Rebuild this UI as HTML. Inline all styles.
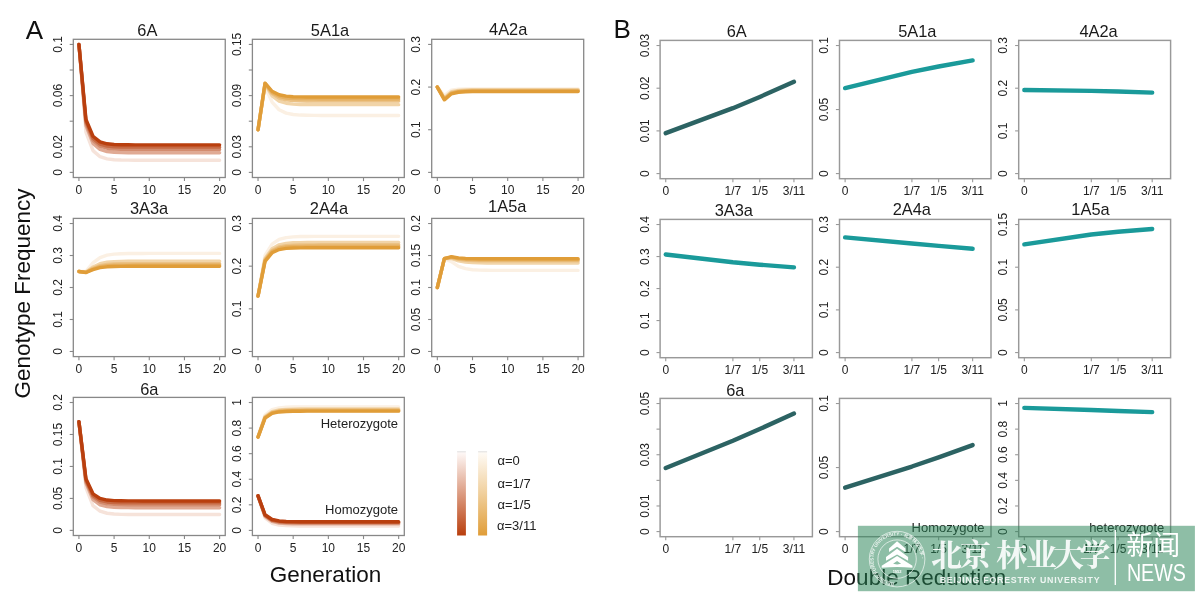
<!DOCTYPE html>
<html><head><meta charset="utf-8"><title>Genotype Frequency</title><style>
html,body{margin:0;padding:0;background:#fff;}
svg{display:block;}
text{font-family:"Liberation Sans",Arial,sans-serif;fill:#1a1a1a;}
.tk{font-size:12px;fill:#222;}
.ti{font-size:16.4px;fill:#1a1a1a;}
.hl{font-size:13px;fill:#222;}
.lg{font-size:13px;fill:#222;}
.big{font-size:26px;fill:#111;}
.ax{font-size:22.5px;fill:#111;}
.la{stroke-width:3.4;stroke-linecap:round;stroke-linejoin:round;}
.lb{stroke-width:4.4;stroke-linecap:round;stroke-linejoin:round;}
.cal text{font-family:"Liberation Serif","Noto Serif CJK SC",serif;font-weight:bold;font-size:31px;fill:#fff;text-anchor:middle;}
.ringt{font-family:"Liberation Sans","Noto Sans CJK SC",sans-serif;font-size:4.6px;fill:#fff;fill-opacity:0.85;font-weight:bold;}
.yr{font-size:4px;fill:#fff;font-weight:bold;}
.bfu{font-size:8.8px;font-weight:bold;fill:#fff;fill-opacity:0.85;letter-spacing:0.75px;}
.xw{font-family:"Liberation Sans","Noto Sans CJK SC",sans-serif;font-size:27px;fill:#fff;}
.news{font-size:23.5px;fill:#fff;}
</style></head>
<body><svg width="1200" height="598" viewBox="0 0 1200 598">
<rect width="1200" height="598" fill="#fff"/>
<rect x="73.30" y="39.30" width="151.95" height="138.20" fill="none" stroke="#888888" stroke-width="1.3"/>
<line x1="69.70" y1="172.38" x2="73.30" y2="172.38" stroke="#888888" stroke-width="1.1"/>
<line x1="69.70" y1="146.79" x2="73.30" y2="146.79" stroke="#888888" stroke-width="1.1"/>
<line x1="69.70" y1="121.20" x2="73.30" y2="121.20" stroke="#888888" stroke-width="1.1"/>
<line x1="69.70" y1="95.60" x2="73.30" y2="95.60" stroke="#888888" stroke-width="1.1"/>
<line x1="69.70" y1="70.01" x2="73.30" y2="70.01" stroke="#888888" stroke-width="1.1"/>
<line x1="69.70" y1="44.42" x2="73.30" y2="44.42" stroke="#888888" stroke-width="1.1"/>
<text class="tk" transform="translate(61.90,172.38) rotate(-90)" text-anchor="middle">0</text>
<text class="tk" transform="translate(61.90,146.79) rotate(-90)" text-anchor="middle">0.02</text>
<text class="tk" transform="translate(61.90,95.60) rotate(-90)" text-anchor="middle">0.06</text>
<text class="tk" transform="translate(61.90,44.42) rotate(-90)" text-anchor="middle">0.1</text>
<line x1="78.93" y1="177.50" x2="78.93" y2="181.10" stroke="#888888" stroke-width="1.1"/>
<line x1="114.10" y1="177.50" x2="114.10" y2="181.10" stroke="#888888" stroke-width="1.1"/>
<line x1="149.27" y1="177.50" x2="149.27" y2="181.10" stroke="#888888" stroke-width="1.1"/>
<line x1="184.45" y1="177.50" x2="184.45" y2="181.10" stroke="#888888" stroke-width="1.1"/>
<line x1="219.62" y1="177.50" x2="219.62" y2="181.10" stroke="#888888" stroke-width="1.1"/>
<text class="tk" x="78.93" y="193.60" text-anchor="middle">0</text>
<text class="tk" x="114.10" y="193.60" text-anchor="middle">5</text>
<text class="tk" x="149.27" y="193.60" text-anchor="middle">10</text>
<text class="tk" x="184.45" y="193.60" text-anchor="middle">15</text>
<text class="tk" x="219.62" y="193.60" text-anchor="middle">20</text>
<path d="M78.93,44.42 L85.96,132.07 L93.00,150.64 L100.03,156.72 L107.07,158.89 L114.10,159.72 L121.14,160.04 L128.17,160.17 L135.21,160.22 L142.24,160.24 L149.27,160.25 L156.31,160.26 L163.34,160.26 L170.38,160.26 L177.41,160.26 L184.45,160.26 L191.48,160.26 L198.52,160.26 L205.55,160.26 L212.59,160.26 L219.62,160.26" fill="none" stroke="#F6E3DA" class="la"/>
<path d="M78.93,44.42 L85.96,125.70 L93.00,143.49 L100.03,149.42 L107.07,151.52 L114.10,152.30 L121.14,152.59 L128.17,152.70 L135.21,152.74 L142.24,152.76 L149.27,152.77 L156.31,152.77 L163.34,152.77 L170.38,152.77 L177.41,152.77 L184.45,152.77 L191.48,152.77 L198.52,152.77 L205.55,152.77 L212.59,152.77 L219.62,152.77" fill="none" stroke="#E0AA94" class="la"/>
<path d="M78.93,44.42 L85.96,123.02 L93.00,140.39 L100.03,146.19 L107.07,148.23 L114.10,148.97 L121.14,149.25 L128.17,149.35 L135.21,149.39 L142.24,149.40 L149.27,149.41 L156.31,149.41 L163.34,149.41 L170.38,149.41 L177.41,149.41 L184.45,149.41 L191.48,149.41 L198.52,149.41 L205.55,149.41 L212.59,149.41 L219.62,149.41" fill="none" stroke="#D38C6F" class="la"/>
<path d="M78.93,44.42 L85.96,121.28 L93.00,138.36 L100.03,144.06 L107.07,146.04 L114.10,146.76 L121.14,147.02 L128.17,147.12 L135.21,147.15 L142.24,147.17 L149.27,147.17 L156.31,147.17 L163.34,147.17 L170.38,147.17 L177.41,147.17 L184.45,147.17 L191.48,147.17 L198.52,147.17 L205.55,147.17 L212.59,147.17 L219.62,147.17" fill="none" stroke="#C76943" class="la"/>
<path d="M78.93,44.42 L85.96,119.51 L93.00,136.27 L100.03,141.85 L107.07,143.79 L114.10,144.48 L121.14,144.72 L128.17,144.81 L135.21,144.85 L142.24,144.86 L149.27,144.86 L156.31,144.86 L163.34,144.86 L170.38,144.87 L177.41,144.87 L184.45,144.87 L191.48,144.87 L198.52,144.87 L205.55,144.87 L212.59,144.87 L219.62,144.87" fill="none" stroke="#B93F0E" class="la"/>
<text class="ti" x="147.40" y="35.60" text-anchor="middle">6A</text>
<rect x="252.40" y="39.30" width="151.90" height="138.20" fill="none" stroke="#888888" stroke-width="1.3"/>
<line x1="248.80" y1="172.38" x2="252.40" y2="172.38" stroke="#888888" stroke-width="1.1"/>
<line x1="248.80" y1="146.79" x2="252.40" y2="146.79" stroke="#888888" stroke-width="1.1"/>
<line x1="248.80" y1="121.20" x2="252.40" y2="121.20" stroke="#888888" stroke-width="1.1"/>
<line x1="248.80" y1="95.60" x2="252.40" y2="95.60" stroke="#888888" stroke-width="1.1"/>
<line x1="248.80" y1="70.01" x2="252.40" y2="70.01" stroke="#888888" stroke-width="1.1"/>
<line x1="248.80" y1="44.42" x2="252.40" y2="44.42" stroke="#888888" stroke-width="1.1"/>
<text class="tk" transform="translate(241.00,172.38) rotate(-90)" text-anchor="middle">0</text>
<text class="tk" transform="translate(241.00,146.79) rotate(-90)" text-anchor="middle">0.03</text>
<text class="tk" transform="translate(241.00,95.60) rotate(-90)" text-anchor="middle">0.09</text>
<text class="tk" transform="translate(241.00,44.42) rotate(-90)" text-anchor="middle">0.15</text>
<line x1="258.03" y1="177.50" x2="258.03" y2="181.10" stroke="#888888" stroke-width="1.1"/>
<line x1="293.19" y1="177.50" x2="293.19" y2="181.10" stroke="#888888" stroke-width="1.1"/>
<line x1="328.35" y1="177.50" x2="328.35" y2="181.10" stroke="#888888" stroke-width="1.1"/>
<line x1="363.51" y1="177.50" x2="363.51" y2="181.10" stroke="#888888" stroke-width="1.1"/>
<line x1="398.67" y1="177.50" x2="398.67" y2="181.10" stroke="#888888" stroke-width="1.1"/>
<text class="tk" x="258.03" y="193.60" text-anchor="middle">0</text>
<text class="tk" x="293.19" y="193.60" text-anchor="middle">5</text>
<text class="tk" x="328.35" y="193.60" text-anchor="middle">10</text>
<text class="tk" x="363.51" y="193.60" text-anchor="middle">15</text>
<text class="tk" x="398.67" y="193.60" text-anchor="middle">20</text>
<path d="M258.03,129.73 L265.06,86.52 L272.09,102.05 L279.12,109.73 L286.16,113.11 L293.19,114.50 L300.22,115.07 L307.25,115.30 L314.29,115.39 L321.32,115.43 L328.35,115.44 L335.38,115.45 L342.41,115.45 L349.45,115.45 L356.48,115.45 L363.51,115.45 L370.54,115.45 L377.58,115.45 L384.61,115.45 L391.64,115.45 L398.67,115.45" fill="none" stroke="#FBF0E3" class="la"/>
<path d="M258.03,129.73 L265.06,84.44 L272.09,95.79 L279.12,101.04 L286.16,103.23 L293.19,104.10 L300.22,104.43 L307.25,104.56 L314.29,104.61 L321.32,104.63 L328.35,104.63 L335.38,104.64 L342.41,104.64 L349.45,104.64 L356.48,104.64 L363.51,104.64 L370.54,104.64 L377.58,104.64 L384.61,104.64 L391.64,104.64 L398.67,104.64" fill="none" stroke="#F1D4A8" class="la"/>
<path d="M258.03,129.73 L265.06,83.78 L272.09,93.65 L279.12,98.10 L286.16,99.91 L293.19,100.61 L300.22,100.87 L307.25,100.97 L314.29,101.01 L321.32,101.02 L328.35,101.03 L335.38,101.03 L342.41,101.03 L349.45,101.03 L356.48,101.03 L363.51,101.03 L370.54,101.03 L377.58,101.03 L384.61,101.03 L391.64,101.03 L398.67,101.03" fill="none" stroke="#EBC286" class="la"/>
<path d="M258.03,129.73 L265.06,83.42 L272.09,92.40 L279.12,96.37 L286.16,97.97 L293.19,98.57 L300.22,98.80 L307.25,98.89 L314.29,98.92 L321.32,98.93 L328.35,98.93 L335.38,98.93 L342.41,98.93 L349.45,98.93 L356.48,98.93 L363.51,98.93 L370.54,98.93 L377.58,98.93 L384.61,98.93 L391.64,98.93 L398.67,98.93" fill="none" stroke="#E6B163" class="la"/>
<path d="M258.03,129.73 L265.06,83.09 L272.09,91.24 L279.12,94.76 L286.16,96.16 L293.19,96.68 L300.22,96.88 L307.25,96.95 L314.29,96.97 L321.32,96.98 L328.35,96.99 L335.38,96.99 L342.41,96.99 L349.45,96.99 L356.48,96.99 L363.51,96.99 L370.54,96.99 L377.58,96.99 L384.61,96.99 L391.64,96.99 L398.67,96.99" fill="none" stroke="#E09D38" class="la"/>
<text class="ti" x="330.00" y="35.60" text-anchor="middle">5A1a</text>
<rect x="431.70" y="39.30" width="152.00" height="138.20" fill="none" stroke="#888888" stroke-width="1.3"/>
<line x1="428.10" y1="172.38" x2="431.70" y2="172.38" stroke="#888888" stroke-width="1.1"/>
<line x1="428.10" y1="129.73" x2="431.70" y2="129.73" stroke="#888888" stroke-width="1.1"/>
<line x1="428.10" y1="87.07" x2="431.70" y2="87.07" stroke="#888888" stroke-width="1.1"/>
<line x1="428.10" y1="44.42" x2="431.70" y2="44.42" stroke="#888888" stroke-width="1.1"/>
<text class="tk" transform="translate(420.30,172.38) rotate(-90)" text-anchor="middle">0</text>
<text class="tk" transform="translate(420.30,129.73) rotate(-90)" text-anchor="middle">0.1</text>
<text class="tk" transform="translate(420.30,87.07) rotate(-90)" text-anchor="middle">0.2</text>
<text class="tk" transform="translate(420.30,44.42) rotate(-90)" text-anchor="middle">0.3</text>
<line x1="437.33" y1="177.50" x2="437.33" y2="181.10" stroke="#888888" stroke-width="1.1"/>
<line x1="472.51" y1="177.50" x2="472.51" y2="181.10" stroke="#888888" stroke-width="1.1"/>
<line x1="507.70" y1="177.50" x2="507.70" y2="181.10" stroke="#888888" stroke-width="1.1"/>
<line x1="542.89" y1="177.50" x2="542.89" y2="181.10" stroke="#888888" stroke-width="1.1"/>
<line x1="578.07" y1="177.50" x2="578.07" y2="181.10" stroke="#888888" stroke-width="1.1"/>
<text class="tk" x="437.33" y="193.60" text-anchor="middle">0</text>
<text class="tk" x="472.51" y="193.60" text-anchor="middle">5</text>
<text class="tk" x="507.70" y="193.60" text-anchor="middle">10</text>
<text class="tk" x="542.89" y="193.60" text-anchor="middle">15</text>
<text class="tk" x="578.07" y="193.60" text-anchor="middle">20</text>
<path d="M437.33,87.07 L444.37,95.63 L451.40,90.09 L458.44,89.13 L465.48,88.92 L472.51,88.87 L479.55,88.85 L486.59,88.85 L493.63,88.85 L500.66,88.85 L507.70,88.85 L514.74,88.85 L521.77,88.85 L528.81,88.85 L535.85,88.85 L542.89,88.85 L549.92,88.85 L556.96,88.85 L564.00,88.85 L571.03,88.85 L578.07,88.85" fill="none" stroke="#FBF0E3" class="la"/>
<path d="M437.33,87.07 L444.37,97.77 L451.40,91.79 L458.44,90.39 L465.48,89.96 L472.51,89.82 L479.55,89.76 L486.59,89.74 L493.63,89.73 L500.66,89.73 L507.70,89.73 L514.74,89.73 L521.77,89.73 L528.81,89.73 L535.85,89.73 L542.89,89.73 L549.92,89.73 L556.96,89.73 L564.00,89.73 L571.03,89.73 L578.07,89.73" fill="none" stroke="#F1D4A8" class="la"/>
<path d="M437.33,87.07 L444.37,98.67 L451.40,92.62 L458.44,91.12 L465.48,90.65 L472.51,90.48 L479.55,90.42 L486.59,90.40 L493.63,90.39 L500.66,90.39 L507.70,90.39 L514.74,90.39 L521.77,90.39 L528.81,90.39 L535.85,90.39 L542.89,90.39 L549.92,90.39 L556.96,90.39 L564.00,90.39 L571.03,90.39 L578.07,90.39" fill="none" stroke="#EBC286" class="la"/>
<path d="M437.33,87.07 L444.37,99.25 L451.40,93.19 L458.44,91.65 L465.48,91.15 L472.51,90.98 L479.55,90.92 L486.59,90.90 L493.63,90.89 L500.66,90.89 L507.70,90.89 L514.74,90.89 L521.77,90.89 L528.81,90.89 L535.85,90.89 L542.89,90.89 L549.92,90.89 L556.96,90.89 L564.00,90.89 L571.03,90.89 L578.07,90.89" fill="none" stroke="#E6B163" class="la"/>
<path d="M437.33,87.07 L444.37,99.84 L451.40,93.79 L458.44,92.22 L465.48,91.71 L472.51,91.54 L479.55,91.48 L486.59,91.45 L493.63,91.45 L500.66,91.44 L507.70,91.44 L514.74,91.44 L521.77,91.44 L528.81,91.44 L535.85,91.44 L542.89,91.44 L549.92,91.44 L556.96,91.44 L564.00,91.44 L571.03,91.44 L578.07,91.44" fill="none" stroke="#E09D38" class="la"/>
<text class="ti" x="508.18" y="35.30" text-anchor="middle">4A2a</text>
<rect x="73.30" y="218.40" width="151.95" height="138.20" fill="none" stroke="#888888" stroke-width="1.3"/>
<line x1="69.70" y1="351.48" x2="73.30" y2="351.48" stroke="#888888" stroke-width="1.1"/>
<line x1="69.70" y1="319.49" x2="73.30" y2="319.49" stroke="#888888" stroke-width="1.1"/>
<line x1="69.70" y1="287.50" x2="73.30" y2="287.50" stroke="#888888" stroke-width="1.1"/>
<line x1="69.70" y1="255.51" x2="73.30" y2="255.51" stroke="#888888" stroke-width="1.1"/>
<line x1="69.70" y1="223.52" x2="73.30" y2="223.52" stroke="#888888" stroke-width="1.1"/>
<text class="tk" transform="translate(61.90,351.48) rotate(-90)" text-anchor="middle">0</text>
<text class="tk" transform="translate(61.90,319.49) rotate(-90)" text-anchor="middle">0.1</text>
<text class="tk" transform="translate(61.90,287.50) rotate(-90)" text-anchor="middle">0.2</text>
<text class="tk" transform="translate(61.90,255.51) rotate(-90)" text-anchor="middle">0.3</text>
<text class="tk" transform="translate(61.90,223.52) rotate(-90)" text-anchor="middle">0.4</text>
<line x1="78.93" y1="356.60" x2="78.93" y2="360.20" stroke="#888888" stroke-width="1.1"/>
<line x1="114.10" y1="356.60" x2="114.10" y2="360.20" stroke="#888888" stroke-width="1.1"/>
<line x1="149.27" y1="356.60" x2="149.27" y2="360.20" stroke="#888888" stroke-width="1.1"/>
<line x1="184.45" y1="356.60" x2="184.45" y2="360.20" stroke="#888888" stroke-width="1.1"/>
<line x1="219.62" y1="356.60" x2="219.62" y2="360.20" stroke="#888888" stroke-width="1.1"/>
<text class="tk" x="78.93" y="372.70" text-anchor="middle">0</text>
<text class="tk" x="114.10" y="372.70" text-anchor="middle">5</text>
<text class="tk" x="149.27" y="372.70" text-anchor="middle">10</text>
<text class="tk" x="184.45" y="372.70" text-anchor="middle">15</text>
<text class="tk" x="219.62" y="372.70" text-anchor="middle">20</text>
<path d="M78.93,271.50 L85.96,271.25 L93.00,262.93 L100.03,257.62 L107.07,255.16 L114.10,254.12 L121.14,253.70 L128.17,253.53 L135.21,253.46 L142.24,253.44 L149.27,253.42 L156.31,253.42 L163.34,253.42 L170.38,253.42 L177.41,253.42 L184.45,253.42 L191.48,253.42 L198.52,253.42 L205.55,253.42 L212.59,253.42 L219.62,253.42" fill="none" stroke="#FBF0E3" class="la"/>
<path d="M78.93,271.50 L85.96,272.11 L93.00,267.00 L100.03,263.67 L107.07,262.19 L114.10,261.60 L121.14,261.37 L128.17,261.28 L135.21,261.24 L142.24,261.23 L149.27,261.23 L156.31,261.22 L163.34,261.22 L170.38,261.22 L177.41,261.22 L184.45,261.22 L191.48,261.22 L198.52,261.22 L205.55,261.22 L212.59,261.22 L219.62,261.22" fill="none" stroke="#F1D4A8" class="la"/>
<path d="M78.93,271.50 L85.96,272.33 L93.00,268.29 L100.03,265.60 L107.07,264.42 L114.10,263.96 L121.14,263.78 L128.17,263.71 L135.21,263.69 L142.24,263.68 L149.27,263.68 L156.31,263.68 L163.34,263.67 L170.38,263.67 L177.41,263.67 L184.45,263.67 L191.48,263.67 L198.52,263.67 L205.55,263.67 L212.59,263.67 L219.62,263.67" fill="none" stroke="#EBC286" class="la"/>
<path d="M78.93,271.50 L85.96,272.43 L93.00,269.01 L100.03,266.69 L107.07,265.68 L114.10,265.29 L121.14,265.14 L128.17,265.08 L135.21,265.06 L142.24,265.06 L149.27,265.05 L156.31,265.05 L163.34,265.05 L170.38,265.05 L177.41,265.05 L184.45,265.05 L191.48,265.05 L198.52,265.05 L205.55,265.05 L212.59,265.05 L219.62,265.05" fill="none" stroke="#E6B163" class="la"/>
<path d="M78.93,271.50 L85.96,272.50 L93.00,269.67 L100.03,267.67 L107.07,266.82 L114.10,266.49 L121.14,266.36 L128.17,266.32 L135.21,266.30 L142.24,266.30 L149.27,266.30 L156.31,266.29 L163.34,266.29 L170.38,266.29 L177.41,266.29 L184.45,266.29 L191.48,266.29 L198.52,266.29 L205.55,266.29 L212.59,266.29 L219.62,266.29" fill="none" stroke="#E09D38" class="la"/>
<text class="ti" x="149.05" y="214.40" text-anchor="middle">3A3a</text>
<rect x="252.40" y="218.40" width="151.90" height="138.20" fill="none" stroke="#888888" stroke-width="1.3"/>
<line x1="248.80" y1="351.48" x2="252.40" y2="351.48" stroke="#888888" stroke-width="1.1"/>
<line x1="248.80" y1="308.83" x2="252.40" y2="308.83" stroke="#888888" stroke-width="1.1"/>
<line x1="248.80" y1="266.17" x2="252.40" y2="266.17" stroke="#888888" stroke-width="1.1"/>
<line x1="248.80" y1="223.52" x2="252.40" y2="223.52" stroke="#888888" stroke-width="1.1"/>
<text class="tk" transform="translate(241.00,351.48) rotate(-90)" text-anchor="middle">0</text>
<text class="tk" transform="translate(241.00,308.83) rotate(-90)" text-anchor="middle">0.1</text>
<text class="tk" transform="translate(241.00,266.17) rotate(-90)" text-anchor="middle">0.2</text>
<text class="tk" transform="translate(241.00,223.52) rotate(-90)" text-anchor="middle">0.3</text>
<line x1="258.03" y1="356.60" x2="258.03" y2="360.20" stroke="#888888" stroke-width="1.1"/>
<line x1="293.19" y1="356.60" x2="293.19" y2="360.20" stroke="#888888" stroke-width="1.1"/>
<line x1="328.35" y1="356.60" x2="328.35" y2="360.20" stroke="#888888" stroke-width="1.1"/>
<line x1="363.51" y1="356.60" x2="363.51" y2="360.20" stroke="#888888" stroke-width="1.1"/>
<line x1="398.67" y1="356.60" x2="398.67" y2="360.20" stroke="#888888" stroke-width="1.1"/>
<text class="tk" x="258.03" y="372.70" text-anchor="middle">0</text>
<text class="tk" x="293.19" y="372.70" text-anchor="middle">5</text>
<text class="tk" x="328.35" y="372.70" text-anchor="middle">10</text>
<text class="tk" x="363.51" y="372.70" text-anchor="middle">15</text>
<text class="tk" x="398.67" y="372.70" text-anchor="middle">20</text>
<path d="M258.03,296.03 L265.06,255.40 L272.09,244.15 L279.12,239.45 L286.16,237.59 L293.19,236.85 L300.22,236.56 L307.25,236.44 L314.29,236.39 L321.32,236.38 L328.35,236.37 L335.38,236.37 L342.41,236.36 L349.45,236.36 L356.48,236.36 L363.51,236.36 L370.54,236.36 L377.58,236.36 L384.61,236.36 L391.64,236.36 L398.67,236.36" fill="none" stroke="#FBF0E3" class="la"/>
<path d="M258.03,296.03 L265.06,258.42 L272.09,248.66 L279.12,244.80 L286.16,243.35 L293.19,242.80 L300.22,242.59 L307.25,242.51 L314.29,242.48 L321.32,242.46 L328.35,242.46 L335.38,242.46 L342.41,242.46 L349.45,242.46 L356.48,242.46 L363.51,242.46 L370.54,242.46 L377.58,242.46 L384.61,242.46 L391.64,242.46 L398.67,242.46" fill="none" stroke="#F1D4A8" class="la"/>
<path d="M258.03,296.03 L265.06,259.68 L272.09,250.48 L279.12,246.91 L286.16,245.59 L293.19,245.10 L300.22,244.92 L307.25,244.85 L314.29,244.83 L321.32,244.82 L328.35,244.81 L335.38,244.81 L342.41,244.81 L349.45,244.81 L356.48,244.81 L363.51,244.81 L370.54,244.81 L377.58,244.81 L384.61,244.81 L391.64,244.81 L398.67,244.81" fill="none" stroke="#EBC286" class="la"/>
<path d="M258.03,296.03 L265.06,260.49 L272.09,251.64 L279.12,248.24 L286.16,247.01 L293.19,246.55 L300.22,246.39 L307.25,246.32 L314.29,246.30 L321.32,246.29 L328.35,246.29 L335.38,246.29 L342.41,246.29 L349.45,246.29 L356.48,246.29 L363.51,246.29 L370.54,246.29 L377.58,246.29 L384.61,246.29 L391.64,246.29 L398.67,246.29" fill="none" stroke="#E6B163" class="la"/>
<path d="M258.03,296.03 L265.06,261.31 L272.09,252.80 L279.12,249.57 L286.16,248.41 L293.19,247.99 L300.22,247.84 L307.25,247.78 L314.29,247.76 L321.32,247.76 L328.35,247.75 L335.38,247.75 L342.41,247.75 L349.45,247.75 L356.48,247.75 L363.51,247.75 L370.54,247.75 L377.58,247.75 L384.61,247.75 L391.64,247.75 L398.67,247.75" fill="none" stroke="#E09D38" class="la"/>
<text class="ti" x="328.95" y="213.90" text-anchor="middle">2A4a</text>
<rect x="431.70" y="218.40" width="152.00" height="138.20" fill="none" stroke="#888888" stroke-width="1.3"/>
<line x1="428.10" y1="351.48" x2="431.70" y2="351.48" stroke="#888888" stroke-width="1.1"/>
<line x1="428.10" y1="319.49" x2="431.70" y2="319.49" stroke="#888888" stroke-width="1.1"/>
<line x1="428.10" y1="287.50" x2="431.70" y2="287.50" stroke="#888888" stroke-width="1.1"/>
<line x1="428.10" y1="255.51" x2="431.70" y2="255.51" stroke="#888888" stroke-width="1.1"/>
<line x1="428.10" y1="223.52" x2="431.70" y2="223.52" stroke="#888888" stroke-width="1.1"/>
<text class="tk" transform="translate(420.30,351.48) rotate(-90)" text-anchor="middle">0</text>
<text class="tk" transform="translate(420.30,319.49) rotate(-90)" text-anchor="middle">0.05</text>
<text class="tk" transform="translate(420.30,287.50) rotate(-90)" text-anchor="middle">0.1</text>
<text class="tk" transform="translate(420.30,255.51) rotate(-90)" text-anchor="middle">0.15</text>
<text class="tk" transform="translate(420.30,223.52) rotate(-90)" text-anchor="middle">0.2</text>
<line x1="437.33" y1="356.60" x2="437.33" y2="360.20" stroke="#888888" stroke-width="1.1"/>
<line x1="472.51" y1="356.60" x2="472.51" y2="360.20" stroke="#888888" stroke-width="1.1"/>
<line x1="507.70" y1="356.60" x2="507.70" y2="360.20" stroke="#888888" stroke-width="1.1"/>
<line x1="542.89" y1="356.60" x2="542.89" y2="360.20" stroke="#888888" stroke-width="1.1"/>
<line x1="578.07" y1="356.60" x2="578.07" y2="360.20" stroke="#888888" stroke-width="1.1"/>
<text class="tk" x="437.33" y="372.70" text-anchor="middle">0</text>
<text class="tk" x="472.51" y="372.70" text-anchor="middle">5</text>
<text class="tk" x="507.70" y="372.70" text-anchor="middle">10</text>
<text class="tk" x="542.89" y="372.70" text-anchor="middle">15</text>
<text class="tk" x="578.07" y="372.70" text-anchor="middle">20</text>
<path d="M437.33,287.50 L444.37,258.70 L451.40,261.64 L458.44,266.32 L465.48,268.68 L472.51,269.70 L479.55,270.12 L486.59,270.28 L493.63,270.35 L500.66,270.38 L507.70,270.39 L514.74,270.40 L521.77,270.40 L528.81,270.40 L535.85,270.40 L542.89,270.40 L549.92,270.40 L556.96,270.40 L564.00,270.40 L571.03,270.40 L578.07,270.40" fill="none" stroke="#FBF0E3" class="la"/>
<path d="M437.33,287.50 L444.37,258.50 L451.40,258.41 L458.44,260.90 L465.48,262.15 L472.51,262.67 L479.55,262.88 L486.59,262.95 L493.63,262.98 L500.66,263.00 L507.70,263.00 L514.74,263.00 L521.77,263.00 L528.81,263.00 L535.85,263.00 L542.89,263.00 L549.92,263.00 L556.96,263.00 L564.00,263.00 L571.03,263.00 L578.07,263.00" fill="none" stroke="#F1D4A8" class="la"/>
<path d="M437.33,287.50 L444.37,258.55 L451.40,257.52 L458.44,259.34 L465.48,260.28 L472.51,260.66 L479.55,260.80 L486.59,260.86 L493.63,260.88 L500.66,260.89 L507.70,260.89 L514.74,260.89 L521.77,260.89 L528.81,260.89 L535.85,260.89 L542.89,260.89 L549.92,260.89 L556.96,260.89 L564.00,260.89 L571.03,260.89 L578.07,260.89" fill="none" stroke="#EBC286" class="la"/>
<path d="M437.33,287.50 L444.37,258.61 L451.40,257.06 L458.44,258.52 L465.48,259.28 L472.51,259.59 L479.55,259.70 L486.59,259.75 L493.63,259.76 L500.66,259.77 L507.70,259.77 L514.74,259.77 L521.77,259.77 L528.81,259.77 L535.85,259.77 L542.89,259.77 L549.92,259.77 L556.96,259.77 L564.00,259.77 L571.03,259.77 L578.07,259.77" fill="none" stroke="#E6B163" class="la"/>
<path d="M437.33,287.50 L444.37,258.71 L451.40,256.70 L458.44,257.82 L465.48,258.43 L472.51,258.67 L479.55,258.77 L486.59,258.80 L493.63,258.81 L500.66,258.82 L507.70,258.82 L514.74,258.82 L521.77,258.82 L528.81,258.82 L535.85,258.82 L542.89,258.82 L549.92,258.82 L556.96,258.82 L564.00,258.82 L571.03,258.82 L578.07,258.82" fill="none" stroke="#E09D38" class="la"/>
<text class="ti" x="507.22" y="212.30" text-anchor="middle">1A5a</text>
<rect x="73.30" y="397.40" width="151.95" height="138.10" fill="none" stroke="#888888" stroke-width="1.3"/>
<line x1="69.70" y1="530.39" x2="73.30" y2="530.39" stroke="#888888" stroke-width="1.1"/>
<line x1="69.70" y1="498.42" x2="73.30" y2="498.42" stroke="#888888" stroke-width="1.1"/>
<line x1="69.70" y1="466.45" x2="73.30" y2="466.45" stroke="#888888" stroke-width="1.1"/>
<line x1="69.70" y1="434.48" x2="73.30" y2="434.48" stroke="#888888" stroke-width="1.1"/>
<line x1="69.70" y1="402.51" x2="73.30" y2="402.51" stroke="#888888" stroke-width="1.1"/>
<text class="tk" transform="translate(61.90,530.39) rotate(-90)" text-anchor="middle">0</text>
<text class="tk" transform="translate(61.90,498.42) rotate(-90)" text-anchor="middle">0.05</text>
<text class="tk" transform="translate(61.90,466.45) rotate(-90)" text-anchor="middle">0.1</text>
<text class="tk" transform="translate(61.90,434.48) rotate(-90)" text-anchor="middle">0.15</text>
<text class="tk" transform="translate(61.90,402.51) rotate(-90)" text-anchor="middle">0.2</text>
<line x1="78.93" y1="535.50" x2="78.93" y2="539.10" stroke="#888888" stroke-width="1.1"/>
<line x1="114.10" y1="535.50" x2="114.10" y2="539.10" stroke="#888888" stroke-width="1.1"/>
<line x1="149.27" y1="535.50" x2="149.27" y2="539.10" stroke="#888888" stroke-width="1.1"/>
<line x1="184.45" y1="535.50" x2="184.45" y2="539.10" stroke="#888888" stroke-width="1.1"/>
<line x1="219.62" y1="535.50" x2="219.62" y2="539.10" stroke="#888888" stroke-width="1.1"/>
<text class="tk" x="78.93" y="551.60" text-anchor="middle">0</text>
<text class="tk" x="114.10" y="551.60" text-anchor="middle">5</text>
<text class="tk" x="149.27" y="551.60" text-anchor="middle">10</text>
<text class="tk" x="184.45" y="551.60" text-anchor="middle">15</text>
<text class="tk" x="219.62" y="551.60" text-anchor="middle">20</text>
<path d="M78.93,421.70 L85.96,487.66 L93.00,505.59 L100.03,511.22 L107.07,513.25 L114.10,514.02 L121.14,514.33 L128.17,514.45 L135.21,514.50 L142.24,514.52 L149.27,514.53 L156.31,514.53 L163.34,514.53 L170.38,514.53 L177.41,514.53 L184.45,514.53 L191.48,514.53 L198.52,514.53 L205.55,514.53 L212.59,514.53 L219.62,514.53" fill="none" stroke="#F6E3DA" class="la"/>
<path d="M78.93,421.70 L85.96,483.13 L93.00,499.64 L100.03,504.80 L107.07,506.62 L114.10,507.30 L121.14,507.55 L128.17,507.65 L135.21,507.69 L142.24,507.70 L149.27,507.71 L156.31,507.71 L163.34,507.71 L170.38,507.71 L177.41,507.71 L184.45,507.71 L191.48,507.71 L198.52,507.71 L205.55,507.71 L212.59,507.71 L219.62,507.71" fill="none" stroke="#E0AA94" class="la"/>
<path d="M78.93,421.70 L85.96,481.26 L93.00,497.13 L100.03,502.06 L107.07,503.79 L114.10,504.42 L121.14,504.65 L128.17,504.74 L135.21,504.77 L142.24,504.78 L149.27,504.79 L156.31,504.79 L163.34,504.79 L170.38,504.79 L177.41,504.79 L184.45,504.79 L191.48,504.79 L198.52,504.79 L205.55,504.79 L212.59,504.79 L219.62,504.79" fill="none" stroke="#D38C6F" class="la"/>
<path d="M78.93,421.70 L85.96,480.04 L93.00,495.50 L100.03,500.28 L107.07,501.94 L114.10,502.53 L121.14,502.75 L128.17,502.83 L135.21,502.86 L142.24,502.87 L149.27,502.88 L156.31,502.88 L163.34,502.88 L170.38,502.88 L177.41,502.88 L184.45,502.88 L191.48,502.88 L198.52,502.88 L205.55,502.88 L212.59,502.88 L219.62,502.88" fill="none" stroke="#C76943" class="la"/>
<path d="M78.93,421.70 L85.96,478.82 L93.00,493.84 L100.03,498.46 L107.07,500.05 L114.10,500.62 L121.14,500.82 L128.17,500.89 L135.21,500.92 L142.24,500.93 L149.27,500.93 L156.31,500.94 L163.34,500.94 L170.38,500.94 L177.41,500.94 L184.45,500.94 L191.48,500.94 L198.52,500.94 L205.55,500.94 L212.59,500.94 L219.62,500.94" fill="none" stroke="#B93F0E" class="la"/>
<text class="ti" x="149.25" y="394.50" text-anchor="middle">6a</text>
<rect x="252.40" y="397.40" width="151.90" height="138.10" fill="none" stroke="#888888" stroke-width="1.3"/>
<line x1="248.80" y1="530.39" x2="252.40" y2="530.39" stroke="#888888" stroke-width="1.1"/>
<line x1="248.80" y1="504.81" x2="252.40" y2="504.81" stroke="#888888" stroke-width="1.1"/>
<line x1="248.80" y1="479.24" x2="252.40" y2="479.24" stroke="#888888" stroke-width="1.1"/>
<line x1="248.80" y1="453.66" x2="252.40" y2="453.66" stroke="#888888" stroke-width="1.1"/>
<line x1="248.80" y1="428.09" x2="252.40" y2="428.09" stroke="#888888" stroke-width="1.1"/>
<line x1="248.80" y1="402.51" x2="252.40" y2="402.51" stroke="#888888" stroke-width="1.1"/>
<text class="tk" transform="translate(241.00,530.39) rotate(-90)" text-anchor="middle">0</text>
<text class="tk" transform="translate(241.00,504.81) rotate(-90)" text-anchor="middle">0.2</text>
<text class="tk" transform="translate(241.00,479.24) rotate(-90)" text-anchor="middle">0.4</text>
<text class="tk" transform="translate(241.00,453.66) rotate(-90)" text-anchor="middle">0.6</text>
<text class="tk" transform="translate(241.00,428.09) rotate(-90)" text-anchor="middle">0.8</text>
<text class="tk" transform="translate(241.00,402.51) rotate(-90)" text-anchor="middle">1</text>
<line x1="258.03" y1="535.50" x2="258.03" y2="539.10" stroke="#888888" stroke-width="1.1"/>
<line x1="293.19" y1="535.50" x2="293.19" y2="539.10" stroke="#888888" stroke-width="1.1"/>
<line x1="328.35" y1="535.50" x2="328.35" y2="539.10" stroke="#888888" stroke-width="1.1"/>
<line x1="363.51" y1="535.50" x2="363.51" y2="539.10" stroke="#888888" stroke-width="1.1"/>
<line x1="398.67" y1="535.50" x2="398.67" y2="539.10" stroke="#888888" stroke-width="1.1"/>
<text class="tk" x="258.03" y="551.60" text-anchor="middle">0</text>
<text class="tk" x="293.19" y="551.60" text-anchor="middle">5</text>
<text class="tk" x="328.35" y="551.60" text-anchor="middle">10</text>
<text class="tk" x="363.51" y="551.60" text-anchor="middle">15</text>
<text class="tk" x="398.67" y="551.60" text-anchor="middle">20</text>
<path d="M258.03,437.04 L265.06,415.09 L272.09,409.65 L279.12,407.91 L286.16,407.29 L293.19,407.05 L300.22,406.96 L307.25,406.92 L314.29,406.91 L321.32,406.90 L328.35,406.90 L335.38,406.90 L342.41,406.90 L349.45,406.90 L356.48,406.90 L363.51,406.90 L370.54,406.90 L377.58,406.90 L384.61,406.90 L391.64,406.90 L398.67,406.90" fill="none" stroke="#FBF0E3" class="la"/>
<path d="M258.03,437.04 L265.06,416.63 L272.09,411.55 L279.12,409.93 L286.16,409.35 L293.19,409.14 L300.22,409.06 L307.25,409.03 L314.29,409.02 L321.32,409.01 L328.35,409.01 L335.38,409.01 L342.41,409.01 L349.45,409.01 L356.48,409.01 L363.51,409.01 L370.54,409.01 L377.58,409.01 L384.61,409.01 L391.64,409.01 L398.67,409.01" fill="none" stroke="#F1D4A8" class="la"/>
<path d="M258.03,437.04 L265.06,417.27 L272.09,412.36 L279.12,410.80 L286.16,410.25 L293.19,410.05 L300.22,409.97 L307.25,409.95 L314.29,409.94 L321.32,409.93 L328.35,409.93 L335.38,409.93 L342.41,409.93 L349.45,409.93 L356.48,409.93 L363.51,409.93 L370.54,409.93 L377.58,409.93 L384.61,409.93 L391.64,409.93 L398.67,409.93" fill="none" stroke="#EBC286" class="la"/>
<path d="M258.03,437.04 L265.06,417.69 L272.09,412.89 L279.12,411.37 L286.16,410.84 L293.19,410.65 L300.22,410.58 L307.25,410.55 L314.29,410.54 L321.32,410.54 L328.35,410.54 L335.38,410.54 L342.41,410.54 L349.45,410.53 L356.48,410.53 L363.51,410.53 L370.54,410.53 L377.58,410.53 L384.61,410.53 L391.64,410.53 L398.67,410.53" fill="none" stroke="#E6B163" class="la"/>
<path d="M258.03,437.04 L265.06,418.11 L272.09,413.43 L279.12,411.95 L286.16,411.44 L293.19,411.26 L300.22,411.19 L307.25,411.17 L314.29,411.16 L321.32,411.16 L328.35,411.15 L335.38,411.15 L342.41,411.15 L349.45,411.15 L356.48,411.15 L363.51,411.15 L370.54,411.15 L377.58,411.15 L384.61,411.15 L391.64,411.15 L398.67,411.15" fill="none" stroke="#E09D38" class="la"/>
<path d="M258.03,495.86 L265.06,517.81 L272.09,523.25 L279.12,524.99 L286.16,525.61 L293.19,525.85 L300.22,525.94 L307.25,525.98 L314.29,525.99 L321.32,526.00 L328.35,526.00 L335.38,526.00 L342.41,526.00 L349.45,526.00 L356.48,526.00 L363.51,526.00 L370.54,526.00 L377.58,526.00 L384.61,526.00 L391.64,526.00 L398.67,526.00" fill="none" stroke="#F6E3DA" class="la"/>
<path d="M258.03,495.86 L265.06,516.27 L272.09,521.35 L279.12,522.97 L286.16,523.55 L293.19,523.76 L300.22,523.84 L307.25,523.87 L314.29,523.88 L321.32,523.89 L328.35,523.89 L335.38,523.89 L342.41,523.89 L349.45,523.89 L356.48,523.89 L363.51,523.89 L370.54,523.89 L377.58,523.89 L384.61,523.89 L391.64,523.89 L398.67,523.89" fill="none" stroke="#E0AA94" class="la"/>
<path d="M258.03,495.86 L265.06,515.63 L272.09,520.54 L279.12,522.10 L286.16,522.65 L293.19,522.85 L300.22,522.93 L307.25,522.95 L314.29,522.96 L321.32,522.97 L328.35,522.97 L335.38,522.97 L342.41,522.97 L349.45,522.97 L356.48,522.97 L363.51,522.97 L370.54,522.97 L377.58,522.97 L384.61,522.97 L391.64,522.97 L398.67,522.97" fill="none" stroke="#D38C6F" class="la"/>
<path d="M258.03,495.86 L265.06,515.21 L272.09,520.01 L279.12,521.53 L286.16,522.06 L293.19,522.25 L300.22,522.32 L307.25,522.35 L314.29,522.36 L321.32,522.36 L328.35,522.36 L335.38,522.36 L342.41,522.36 L349.45,522.37 L356.48,522.37 L363.51,522.37 L370.54,522.37 L377.58,522.37 L384.61,522.37 L391.64,522.37 L398.67,522.37" fill="none" stroke="#C76943" class="la"/>
<path d="M258.03,495.86 L265.06,514.79 L272.09,519.47 L279.12,520.95 L286.16,521.46 L293.19,521.64 L300.22,521.71 L307.25,521.73 L314.29,521.74 L321.32,521.74 L328.35,521.75 L335.38,521.75 L342.41,521.75 L349.45,521.75 L356.48,521.75 L363.51,521.75 L370.54,521.75 L377.58,521.75 L384.61,521.75 L391.64,521.75 L398.67,521.75" fill="none" stroke="#B93F0E" class="la"/>
<text class="hl" x="398.0" y="428.1" text-anchor="end">Heterozygote</text>
<text class="hl" x="398.0" y="513.8" text-anchor="end">Homozygote</text>
<rect x="660.10" y="40.40" width="152.30" height="138.30" fill="none" stroke="#999999" stroke-width="1.45"/>
<line x1="656.50" y1="173.58" x2="660.10" y2="173.58" stroke="#999999" stroke-width="1.1"/>
<line x1="656.50" y1="130.89" x2="660.10" y2="130.89" stroke="#999999" stroke-width="1.1"/>
<line x1="656.50" y1="88.21" x2="660.10" y2="88.21" stroke="#999999" stroke-width="1.1"/>
<line x1="656.50" y1="45.52" x2="660.10" y2="45.52" stroke="#999999" stroke-width="1.1"/>
<text class="tk" transform="translate(648.70,173.58) rotate(-90)" text-anchor="middle">0</text>
<text class="tk" transform="translate(648.70,130.89) rotate(-90)" text-anchor="middle">0.01</text>
<text class="tk" transform="translate(648.70,88.21) rotate(-90)" text-anchor="middle">0.02</text>
<text class="tk" transform="translate(648.70,45.52) rotate(-90)" text-anchor="middle">0.03</text>
<line x1="665.74" y1="178.70" x2="665.74" y2="182.30" stroke="#999999" stroke-width="1.1"/>
<line x1="732.89" y1="178.70" x2="732.89" y2="182.30" stroke="#999999" stroke-width="1.1"/>
<line x1="759.75" y1="178.70" x2="759.75" y2="182.30" stroke="#999999" stroke-width="1.1"/>
<line x1="793.94" y1="178.70" x2="793.94" y2="182.30" stroke="#999999" stroke-width="1.1"/>
<text class="tk" x="665.74" y="194.80" text-anchor="middle">0</text>
<text class="tk" x="732.89" y="194.80" text-anchor="middle">1/7</text>
<text class="tk" x="759.75" y="194.80" text-anchor="middle">1/5</text>
<text class="tk" x="793.94" y="194.80" text-anchor="middle">3/11</text>
<path d="M665.74,133.14 L732.89,108.16 L759.75,96.95 L793.94,81.79" fill="none" stroke="#2C6363" class="lb"/>
<text class="ti" x="736.70" y="37.15" text-anchor="middle">6A</text>
<rect x="839.50" y="40.40" width="151.50" height="138.30" fill="none" stroke="#999999" stroke-width="1.45"/>
<line x1="835.90" y1="173.58" x2="839.50" y2="173.58" stroke="#999999" stroke-width="1.1"/>
<line x1="835.90" y1="109.55" x2="839.50" y2="109.55" stroke="#999999" stroke-width="1.1"/>
<line x1="835.90" y1="45.52" x2="839.50" y2="45.52" stroke="#999999" stroke-width="1.1"/>
<text class="tk" transform="translate(828.10,173.58) rotate(-90)" text-anchor="middle">0</text>
<text class="tk" transform="translate(828.10,109.55) rotate(-90)" text-anchor="middle">0.05</text>
<text class="tk" transform="translate(828.10,45.52) rotate(-90)" text-anchor="middle">0.1</text>
<line x1="845.11" y1="178.70" x2="845.11" y2="182.30" stroke="#999999" stroke-width="1.1"/>
<line x1="911.91" y1="178.70" x2="911.91" y2="182.30" stroke="#999999" stroke-width="1.1"/>
<line x1="938.63" y1="178.70" x2="938.63" y2="182.30" stroke="#999999" stroke-width="1.1"/>
<line x1="972.64" y1="178.70" x2="972.64" y2="182.30" stroke="#999999" stroke-width="1.1"/>
<text class="tk" x="845.11" y="194.80" text-anchor="middle">0</text>
<text class="tk" x="911.91" y="194.80" text-anchor="middle">1/7</text>
<text class="tk" x="938.63" y="194.80" text-anchor="middle">1/5</text>
<text class="tk" x="972.64" y="194.80" text-anchor="middle">3/11</text>
<path d="M845.11,88.12 L911.91,71.89 L938.63,66.47 L972.64,60.41" fill="none" stroke="#1A9A9A" class="lb"/>
<text class="ti" x="917.35" y="36.65" text-anchor="middle">5A1a</text>
<rect x="1018.70" y="40.40" width="151.90" height="138.30" fill="none" stroke="#999999" stroke-width="1.45"/>
<line x1="1015.10" y1="173.58" x2="1018.70" y2="173.58" stroke="#999999" stroke-width="1.1"/>
<line x1="1015.10" y1="130.89" x2="1018.70" y2="130.89" stroke="#999999" stroke-width="1.1"/>
<line x1="1015.10" y1="88.21" x2="1018.70" y2="88.21" stroke="#999999" stroke-width="1.1"/>
<line x1="1015.10" y1="45.52" x2="1018.70" y2="45.52" stroke="#999999" stroke-width="1.1"/>
<text class="tk" transform="translate(1007.30,173.58) rotate(-90)" text-anchor="middle">0</text>
<text class="tk" transform="translate(1007.30,130.89) rotate(-90)" text-anchor="middle">0.1</text>
<text class="tk" transform="translate(1007.30,88.21) rotate(-90)" text-anchor="middle">0.2</text>
<text class="tk" transform="translate(1007.30,45.52) rotate(-90)" text-anchor="middle">0.3</text>
<line x1="1024.33" y1="178.70" x2="1024.33" y2="182.30" stroke="#999999" stroke-width="1.1"/>
<line x1="1091.30" y1="178.70" x2="1091.30" y2="182.30" stroke="#999999" stroke-width="1.1"/>
<line x1="1118.09" y1="178.70" x2="1118.09" y2="182.30" stroke="#999999" stroke-width="1.1"/>
<line x1="1152.19" y1="178.70" x2="1152.19" y2="182.30" stroke="#999999" stroke-width="1.1"/>
<text class="tk" x="1024.33" y="194.80" text-anchor="middle">0</text>
<text class="tk" x="1091.30" y="194.80" text-anchor="middle">1/7</text>
<text class="tk" x="1118.09" y="194.80" text-anchor="middle">1/5</text>
<text class="tk" x="1152.19" y="194.80" text-anchor="middle">3/11</text>
<path d="M1024.33,89.98 L1091.30,90.87 L1118.09,91.53 L1152.19,92.58" fill="none" stroke="#1A9A9A" class="lb"/>
<text class="ti" x="1098.55" y="36.90" text-anchor="middle">4A2a</text>
<rect x="660.10" y="219.40" width="152.30" height="138.30" fill="none" stroke="#999999" stroke-width="1.45"/>
<line x1="656.50" y1="352.58" x2="660.10" y2="352.58" stroke="#999999" stroke-width="1.1"/>
<line x1="656.50" y1="320.56" x2="660.10" y2="320.56" stroke="#999999" stroke-width="1.1"/>
<line x1="656.50" y1="288.55" x2="660.10" y2="288.55" stroke="#999999" stroke-width="1.1"/>
<line x1="656.50" y1="256.54" x2="660.10" y2="256.54" stroke="#999999" stroke-width="1.1"/>
<line x1="656.50" y1="224.52" x2="660.10" y2="224.52" stroke="#999999" stroke-width="1.1"/>
<text class="tk" transform="translate(648.70,352.58) rotate(-90)" text-anchor="middle">0</text>
<text class="tk" transform="translate(648.70,320.56) rotate(-90)" text-anchor="middle">0.1</text>
<text class="tk" transform="translate(648.70,288.55) rotate(-90)" text-anchor="middle">0.2</text>
<text class="tk" transform="translate(648.70,256.54) rotate(-90)" text-anchor="middle">0.3</text>
<text class="tk" transform="translate(648.70,224.52) rotate(-90)" text-anchor="middle">0.4</text>
<line x1="665.74" y1="357.70" x2="665.74" y2="361.30" stroke="#999999" stroke-width="1.1"/>
<line x1="732.89" y1="357.70" x2="732.89" y2="361.30" stroke="#999999" stroke-width="1.1"/>
<line x1="759.75" y1="357.70" x2="759.75" y2="361.30" stroke="#999999" stroke-width="1.1"/>
<line x1="793.94" y1="357.70" x2="793.94" y2="361.30" stroke="#999999" stroke-width="1.1"/>
<text class="tk" x="665.74" y="373.80" text-anchor="middle">0</text>
<text class="tk" x="732.89" y="373.80" text-anchor="middle">1/7</text>
<text class="tk" x="759.75" y="373.80" text-anchor="middle">1/5</text>
<text class="tk" x="793.94" y="373.80" text-anchor="middle">3/11</text>
<path d="M665.74,254.44 L732.89,262.25 L759.75,264.71 L793.94,267.33" fill="none" stroke="#1A9A9A" class="lb"/>
<text class="ti" x="733.85" y="215.90" text-anchor="middle">3A3a</text>
<rect x="839.50" y="219.40" width="151.50" height="138.30" fill="none" stroke="#999999" stroke-width="1.45"/>
<line x1="835.90" y1="352.58" x2="839.50" y2="352.58" stroke="#999999" stroke-width="1.1"/>
<line x1="835.90" y1="309.89" x2="839.50" y2="309.89" stroke="#999999" stroke-width="1.1"/>
<line x1="835.90" y1="267.21" x2="839.50" y2="267.21" stroke="#999999" stroke-width="1.1"/>
<line x1="835.90" y1="224.52" x2="839.50" y2="224.52" stroke="#999999" stroke-width="1.1"/>
<text class="tk" transform="translate(828.10,352.58) rotate(-90)" text-anchor="middle">0</text>
<text class="tk" transform="translate(828.10,309.89) rotate(-90)" text-anchor="middle">0.1</text>
<text class="tk" transform="translate(828.10,267.21) rotate(-90)" text-anchor="middle">0.2</text>
<text class="tk" transform="translate(828.10,224.52) rotate(-90)" text-anchor="middle">0.3</text>
<line x1="845.11" y1="357.70" x2="845.11" y2="361.30" stroke="#999999" stroke-width="1.1"/>
<line x1="911.91" y1="357.70" x2="911.91" y2="361.30" stroke="#999999" stroke-width="1.1"/>
<line x1="938.63" y1="357.70" x2="938.63" y2="361.30" stroke="#999999" stroke-width="1.1"/>
<line x1="972.64" y1="357.70" x2="972.64" y2="361.30" stroke="#999999" stroke-width="1.1"/>
<text class="tk" x="845.11" y="373.80" text-anchor="middle">0</text>
<text class="tk" x="911.91" y="373.80" text-anchor="middle">1/7</text>
<text class="tk" x="938.63" y="373.80" text-anchor="middle">1/5</text>
<text class="tk" x="972.64" y="373.80" text-anchor="middle">3/11</text>
<path d="M845.11,237.38 L911.91,243.47 L938.63,245.83 L972.64,248.77" fill="none" stroke="#1A9A9A" class="lb"/>
<text class="ti" x="911.85" y="214.80" text-anchor="middle">2A4a</text>
<rect x="1018.70" y="219.40" width="151.90" height="138.30" fill="none" stroke="#999999" stroke-width="1.45"/>
<line x1="1015.10" y1="352.58" x2="1018.70" y2="352.58" stroke="#999999" stroke-width="1.1"/>
<line x1="1015.10" y1="309.89" x2="1018.70" y2="309.89" stroke="#999999" stroke-width="1.1"/>
<line x1="1015.10" y1="267.21" x2="1018.70" y2="267.21" stroke="#999999" stroke-width="1.1"/>
<line x1="1015.10" y1="224.52" x2="1018.70" y2="224.52" stroke="#999999" stroke-width="1.1"/>
<text class="tk" transform="translate(1007.30,352.58) rotate(-90)" text-anchor="middle">0</text>
<text class="tk" transform="translate(1007.30,309.89) rotate(-90)" text-anchor="middle">0.05</text>
<text class="tk" transform="translate(1007.30,267.21) rotate(-90)" text-anchor="middle">0.1</text>
<text class="tk" transform="translate(1007.30,224.52) rotate(-90)" text-anchor="middle">0.15</text>
<line x1="1024.33" y1="357.70" x2="1024.33" y2="361.30" stroke="#999999" stroke-width="1.1"/>
<line x1="1091.30" y1="357.70" x2="1091.30" y2="361.30" stroke="#999999" stroke-width="1.1"/>
<line x1="1118.09" y1="357.70" x2="1118.09" y2="361.30" stroke="#999999" stroke-width="1.1"/>
<line x1="1152.19" y1="357.70" x2="1152.19" y2="361.30" stroke="#999999" stroke-width="1.1"/>
<text class="tk" x="1024.33" y="373.80" text-anchor="middle">0</text>
<text class="tk" x="1091.30" y="373.80" text-anchor="middle">1/7</text>
<text class="tk" x="1118.09" y="373.80" text-anchor="middle">1/5</text>
<text class="tk" x="1152.19" y="373.80" text-anchor="middle">3/11</text>
<path d="M1024.33,244.39 L1091.30,234.52 L1118.09,231.70 L1152.19,228.94" fill="none" stroke="#1A9A9A" class="lb"/>
<text class="ti" x="1090.50" y="214.80" text-anchor="middle">1A5a</text>
<rect x="660.10" y="398.40" width="152.30" height="138.30" fill="none" stroke="#999999" stroke-width="1.45"/>
<line x1="656.50" y1="531.58" x2="660.10" y2="531.58" stroke="#999999" stroke-width="1.1"/>
<line x1="656.50" y1="505.97" x2="660.10" y2="505.97" stroke="#999999" stroke-width="1.1"/>
<line x1="656.50" y1="480.36" x2="660.10" y2="480.36" stroke="#999999" stroke-width="1.1"/>
<line x1="656.50" y1="454.74" x2="660.10" y2="454.74" stroke="#999999" stroke-width="1.1"/>
<line x1="656.50" y1="429.13" x2="660.10" y2="429.13" stroke="#999999" stroke-width="1.1"/>
<line x1="656.50" y1="403.52" x2="660.10" y2="403.52" stroke="#999999" stroke-width="1.1"/>
<text class="tk" transform="translate(648.70,531.58) rotate(-90)" text-anchor="middle">0</text>
<text class="tk" transform="translate(648.70,505.97) rotate(-90)" text-anchor="middle">0.01</text>
<text class="tk" transform="translate(648.70,454.74) rotate(-90)" text-anchor="middle">0.03</text>
<text class="tk" transform="translate(648.70,403.52) rotate(-90)" text-anchor="middle">0.05</text>
<line x1="665.74" y1="536.70" x2="665.74" y2="540.30" stroke="#999999" stroke-width="1.1"/>
<line x1="732.89" y1="536.70" x2="732.89" y2="540.30" stroke="#999999" stroke-width="1.1"/>
<line x1="759.75" y1="536.70" x2="759.75" y2="540.30" stroke="#999999" stroke-width="1.1"/>
<line x1="793.94" y1="536.70" x2="793.94" y2="540.30" stroke="#999999" stroke-width="1.1"/>
<text class="tk" x="665.74" y="552.80" text-anchor="middle">0</text>
<text class="tk" x="732.89" y="552.80" text-anchor="middle">1/7</text>
<text class="tk" x="759.75" y="552.80" text-anchor="middle">1/5</text>
<text class="tk" x="793.94" y="552.80" text-anchor="middle">3/11</text>
<path d="M665.74,468.08 L732.89,440.75 L759.75,429.04 L793.94,413.61" fill="none" stroke="#2C6363" class="lb"/>
<text class="ti" x="735.38" y="396.40" text-anchor="middle">6a</text>
<rect x="839.50" y="398.40" width="151.50" height="138.30" fill="none" stroke="#999999" stroke-width="1.45"/>
<line x1="835.90" y1="531.58" x2="839.50" y2="531.58" stroke="#999999" stroke-width="1.1"/>
<line x1="835.90" y1="467.55" x2="839.50" y2="467.55" stroke="#999999" stroke-width="1.1"/>
<line x1="835.90" y1="403.52" x2="839.50" y2="403.52" stroke="#999999" stroke-width="1.1"/>
<text class="tk" transform="translate(828.10,531.58) rotate(-90)" text-anchor="middle">0</text>
<text class="tk" transform="translate(828.10,467.55) rotate(-90)" text-anchor="middle">0.05</text>
<text class="tk" transform="translate(828.10,403.52) rotate(-90)" text-anchor="middle">0.1</text>
<line x1="845.11" y1="536.70" x2="845.11" y2="540.30" stroke="#999999" stroke-width="1.1"/>
<line x1="911.91" y1="536.70" x2="911.91" y2="540.30" stroke="#999999" stroke-width="1.1"/>
<line x1="938.63" y1="536.70" x2="938.63" y2="540.30" stroke="#999999" stroke-width="1.1"/>
<line x1="972.64" y1="536.70" x2="972.64" y2="540.30" stroke="#999999" stroke-width="1.1"/>
<text class="tk" x="845.11" y="552.80" text-anchor="middle">0</text>
<text class="tk" x="911.91" y="552.80" text-anchor="middle">1/7</text>
<text class="tk" x="938.63" y="552.80" text-anchor="middle">1/5</text>
<text class="tk" x="972.64" y="552.80" text-anchor="middle">3/11</text>
<path d="M845.11,487.69 L911.91,466.54 L938.63,457.32 L972.64,445.06" fill="none" stroke="#2C6363" class="lb"/>
<text class="hl" x="984.5" y="531.5" text-anchor="end">Homozygote</text>
<rect x="1018.70" y="398.40" width="151.90" height="138.30" fill="none" stroke="#999999" stroke-width="1.45"/>
<line x1="1015.10" y1="531.58" x2="1018.70" y2="531.58" stroke="#999999" stroke-width="1.1"/>
<line x1="1015.10" y1="505.97" x2="1018.70" y2="505.97" stroke="#999999" stroke-width="1.1"/>
<line x1="1015.10" y1="480.36" x2="1018.70" y2="480.36" stroke="#999999" stroke-width="1.1"/>
<line x1="1015.10" y1="454.74" x2="1018.70" y2="454.74" stroke="#999999" stroke-width="1.1"/>
<line x1="1015.10" y1="429.13" x2="1018.70" y2="429.13" stroke="#999999" stroke-width="1.1"/>
<line x1="1015.10" y1="403.52" x2="1018.70" y2="403.52" stroke="#999999" stroke-width="1.1"/>
<text class="tk" transform="translate(1007.30,531.58) rotate(-90)" text-anchor="middle">0</text>
<text class="tk" transform="translate(1007.30,505.97) rotate(-90)" text-anchor="middle">0.2</text>
<text class="tk" transform="translate(1007.30,480.36) rotate(-90)" text-anchor="middle">0.4</text>
<text class="tk" transform="translate(1007.30,454.74) rotate(-90)" text-anchor="middle">0.6</text>
<text class="tk" transform="translate(1007.30,429.13) rotate(-90)" text-anchor="middle">0.8</text>
<text class="tk" transform="translate(1007.30,403.52) rotate(-90)" text-anchor="middle">1</text>
<line x1="1024.33" y1="536.70" x2="1024.33" y2="540.30" stroke="#999999" stroke-width="1.1"/>
<line x1="1091.30" y1="536.70" x2="1091.30" y2="540.30" stroke="#999999" stroke-width="1.1"/>
<line x1="1118.09" y1="536.70" x2="1118.09" y2="540.30" stroke="#999999" stroke-width="1.1"/>
<line x1="1152.19" y1="536.70" x2="1152.19" y2="540.30" stroke="#999999" stroke-width="1.1"/>
<text class="tk" x="1024.33" y="552.80" text-anchor="middle">0</text>
<text class="tk" x="1091.30" y="552.80" text-anchor="middle">1/7</text>
<text class="tk" x="1118.09" y="552.80" text-anchor="middle">1/5</text>
<text class="tk" x="1152.19" y="552.80" text-anchor="middle">3/11</text>
<path d="M1024.33,407.91 L1091.30,410.03 L1118.09,410.95 L1152.19,412.17" fill="none" stroke="#1A9A9A" class="lb"/>
<text class="hl" x="1164.3" y="531.5" text-anchor="end">heterozygote</text>

<defs>
<linearGradient id="gr" x1="0" y1="0" x2="0" y2="1">
<stop offset="0" stop-color="#FFFBFA"/><stop offset="0.5" stop-color="#DC9C82"/><stop offset="1" stop-color="#B93F0E"/>
</linearGradient>
<linearGradient id="go" x1="0" y1="0" x2="0" y2="1">
<stop offset="0" stop-color="#FFFCF8"/><stop offset="0.5" stop-color="#F0CF9C"/><stop offset="1" stop-color="#E09D38"/>
</linearGradient>
</defs>
<rect x="457.1" y="451.4" width="8.8" height="84.1" fill="url(#gr)"/>
<rect x="478.1" y="451.4" width="9.0" height="84.1" fill="url(#go)"/>
<line x1="457.1" y1="451.8" x2="465.9" y2="451.8" stroke="#d8d8d8" stroke-width="0.8"/>
<line x1="478.1" y1="451.8" x2="487.1" y2="451.8" stroke="#d8d8d8" stroke-width="0.8"/>
<text class="lg" x="497.5" y="464.6">α=0</text>
<text class="lg" x="497.5" y="487.5">α=1/7</text>
<text class="lg" x="497.5" y="508.9">α=1/5</text>
<text class="lg" x="497.0" y="529.6">α=3/11</text>

<text class="big" x="25.8" y="38.5">A</text>
<text class="big" x="613.5" y="38.4">B</text>
<text class="ax" x="325.5" y="582" text-anchor="middle">Generation</text>
<text class="ax" x="916.8" y="584.7" text-anchor="middle">Double Reduction</text>
<text class="ax" transform="translate(29.7,293.5) rotate(-90)" text-anchor="middle">Genotype Frequency</text>

<defs><path id="ring" d="M 897.1,582.8 A 23.7,23.7 0 1 1 897.2,582.8"/></defs>
<g>
<rect x="857.9" y="525.8" width="337" height="65.4" fill="rgb(38,130,84)" fill-opacity="0.52"/>
<g fill="none" stroke="#fff" stroke-opacity="0.8">
<circle cx="897.1" cy="559.1" r="27.8" stroke-width="0.8"/>
<circle cx="897.1" cy="559.1" r="19.2" stroke-width="0.8"/>
</g>
<text class="ringt"><textPath href="#ring" startOffset="2%">BEIJING FORESTRY UNIVERSITY · 北京林业大学 ·</textPath></text>
<g fill="#fff">
<polygon points="897.07,541.35 905.43,548.38 905.43,552.06 897.07,546.71 889.04,552.06 889.04,548.38"/>
<polygon points="897.07,548.71 908.10,557.07 908.10,560.75 897.07,554.40 886.03,560.75 886.03,557.07"/>
<path d="M897.07,556.07 L912.45,565.77 L912.45,567.8 Q897.07,566.2 881.68,567.8 L881.68,565.77 Z M897.07,561.1 L893.1,563.8 L897.07,564.4 L901.1,563.8 Z" fill-rule="evenodd"/>
</g>
<text x="897.1" y="573.2" text-anchor="middle" class="yr">1952</text>
<g class="cal" opacity="0.9">
<text x="946.5" y="565.5">北</text><text x="975.5" y="565.5">京</text><text x="1011.5" y="565.5">林</text>
<text x="1041.5" y="565.5">业</text><text x="1068.5" y="565.5">大</text><text x="1095" y="565.5">学</text>
</g>
<text x="1020" y="582.5" text-anchor="middle" class="bfu">BEIJING FORESTRY UNIVERSITY</text>
<line x1="1115.3" y1="530" x2="1115.3" y2="585" stroke="#fff" stroke-width="1.3"/>
<text x="1153.2" y="555.2" text-anchor="middle" class="xw">新闻</text>
<text x="1156.4" y="580.6" text-anchor="middle" class="news" textLength="59" lengthAdjust="spacingAndGlyphs">NEWS</text>
</g>

</svg></body></html>
